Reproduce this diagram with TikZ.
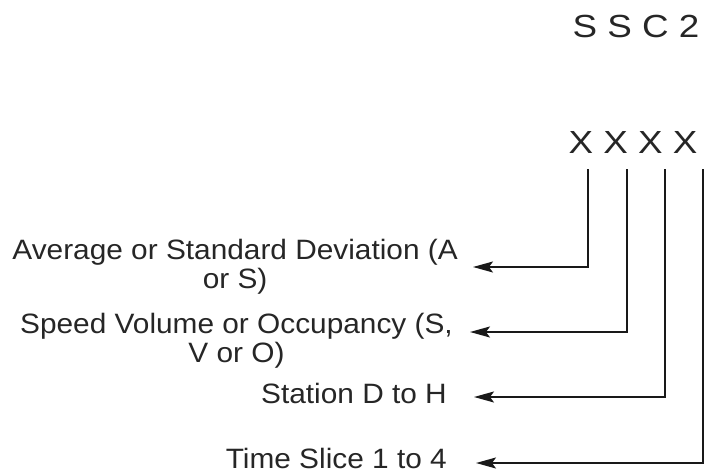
\documentclass[tikz,border=0pt]{standalone}
\usepackage{fontspec}
\setmainfont{Liberation Sans}
\newfontfamily\labfont[FakeStretch=1.065]{Liberation Sans}
\newfontfamily\topfont[FakeStretch=1.15]{Liberation Sans}
\usetikzlibrary{arrows.meta}
\begin{document}
\begin{tikzpicture}[x=1pt,y=-1pt,
  lab/.style={inner sep=0pt, anchor=base east, align=center, text=black!85,
    font=\labfont\fontsize{28}{29.5}\selectfont},
  code/.style={inner sep=0pt, anchor=base, text=black!85,
    font=\topfont\fontsize{32}{36}\selectfont},
  conn/.style={line width=1.6pt, black!90,
    -{Stealth[length=20pt,width=11pt,inset=4pt]}}]
\useasboundingbox (0,0) rectangle (704,474);
\node[code] (ssc) at (636,37) {S S C 2};
\node[code] (xxxx) at (633,153) {X X X X};
\node[lab] (l1) at (458,288.5) {Average or Standard Deviation (A\\or S)};
\node[lab] (l2) at (453,362.5) {Speed Volume or Occupancy (S,\\V or O)};
\node[lab] (l3) at (447,403) {Station D to H};
\node[lab] (l4) at (447,468) {Time Slice 1 to 4};
\coordinate (c1) at (588,169);
\coordinate (c2) at (627,169);
\coordinate (c3) at (665,169);
\coordinate (c4) at (703,169);
\coordinate (e1) at (473,267);
\coordinate (e2) at (470,332);
\coordinate (e3) at (474,397);
\coordinate (e4) at (476,463);
\draw[conn] (c1) |- (e1);
\draw[conn] (c2) |- (e2);
\draw[conn] (c3) |- (e3);
\draw[conn] (c4) |- (e4);
\end{tikzpicture}
\end{document}
